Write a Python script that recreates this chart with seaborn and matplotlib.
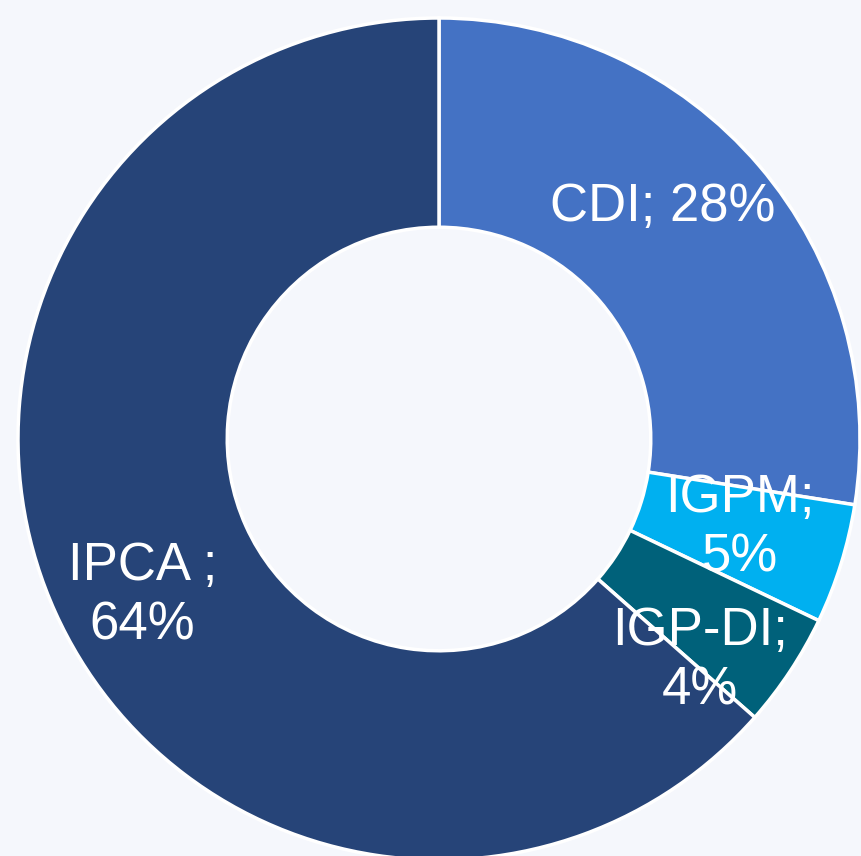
import matplotlib
matplotlib.use("Agg")
import matplotlib.pyplot as plt
import seaborn as sns

# index shares
categories = ["CDI", "IGPM", "IGP-DI", "IPCA"]
shares = [27.5, 4.6, 4.4, 63.5]
label_fmt = ["{}; {:.0f}%", "{};\n{:.0f}%", "{};\n{:.0f}%", "{} ;\n{:.0f}%"]
colors = ["#4472C4", "#00B0F0", "#00617A", "#264478"]

sns.set_style("white")
plt.rcParams["font.family"] = ["Liberation Sans", "DejaVu Sans"]

bg = "#F5F7FC"
fig = plt.figure(figsize=(8.62, 8.56), dpi=100, facecolor=bg)
ax = fig.add_axes([0, 0, 1, 1])
ax.set_facecolor(bg)

R = 421.0  # outer radius in px
wedges, texts = ax.pie(shares, colors=colors, startangle=90, counterclock=False,
                       radius=1.0,
                       labels=[f.format(c, s) for f, c, s in zip(label_fmt, categories, shares)],
                       labeldistance=0.6,
                       wedgeprops=dict(width=0.497, edgecolor="white", linewidth=2.5),
                       textprops=dict(color="white", fontsize=38, ha="center", va="center",
                                      linespacing=1.24))

# nudge labels to where they sit in the reference
label_pos = [(0.532, 0.550), (0.715, -0.211), (0.620, -0.527), (-0.705, -0.373)]
for t, p in zip(texts, label_pos):
    t.set_position(p)
    t.set_ha("center")
    t.set_va("center")
    t.set_zorder(5)

ax.set_xlim(-439 / R, (862 - 439) / R)
ax.set_ylim((439 - 856) / R, 439 / R)
ax.set_aspect("auto")
ax.axis("off")

fig.savefig("out.png", dpi=100, facecolor=bg)
